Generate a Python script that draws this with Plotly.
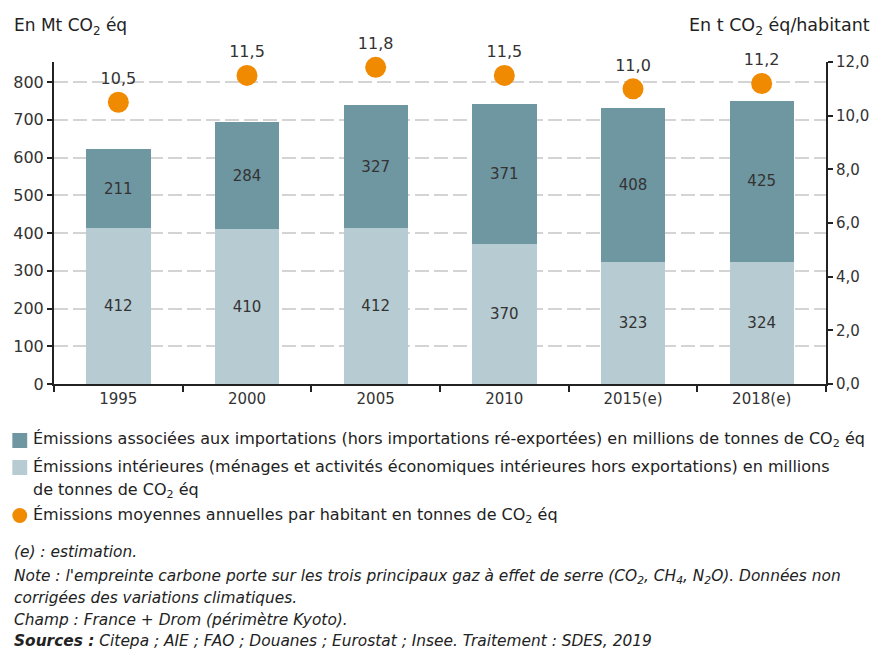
import plotly.graph_objects as go

years = ["1995", "2000", "2005", "2010", "2015(e)", "2018(e)"]
interieures = [412, 410, 412, 370, 323, 324]
importations = [211, 284, 327, 371, 408, 425]
par_habitant = [10.5, 11.5, 11.8, 11.5, 11.0, 11.2]
left_ticks = [0, 100, 200, 300, 400, 500, 600, 700, 800]
right_ticks = [0, 2, 4, 6, 8, 10, 12]

DARK = "#6f97a1"
LIGHT = "#b7cbd2"
ORANGE = "#f08a00"
TXT = "#333333"
FONT = "DejaVu Sans, Liberation Sans, Arial, sans-serif"

W, H = 881, 649
L, R, T, B = 54, 49, 62, 265
PW, PH = W - L - R, H - T - B

fig = go.Figure()
fig.add_trace(go.Bar(
    x=years, y=interieures, marker=dict(color=LIGHT, line=dict(width=0)),
    text=[str(v) for v in interieures], textposition="inside",
    insidetextanchor="middle", textfont=dict(size=15, color=TXT),
    name="interieures", yaxis="y"))
fig.add_trace(go.Bar(
    x=years, y=importations, marker=dict(color=DARK, line=dict(width=0)),
    text=[str(v) for v in importations], textposition="inside",
    insidetextanchor="middle", textfont=dict(size=15, color=TXT),
    name="importations", yaxis="y"))
fig.add_trace(go.Scatter(
    x=years, y=par_habitant, mode="markers+text", yaxis="y2",
    marker=dict(color=ORANGE, size=21), cliponaxis=False,
    text=[f"{v:.1f}".replace(".", ",") for v in par_habitant],
    textposition="top center", textfont=dict(size=16, color=TXT),
    name="habitant"))

fig.update_layout(
    width=W, height=H,
    margin=dict(l=L, r=R, t=T, b=B),
    paper_bgcolor="white", plot_bgcolor="white",
    barmode="stack", bargap=0.5, showlegend=False,
    font=dict(family=FONT, size=14, color=TXT),
    xaxis=dict(type="category", showline=True, linecolor="#222", linewidth=2,
               ticks="outside", tickson="boundaries", ticklen=6, tickwidth=2,
               tickcolor="#222", tickfont=dict(size=15, color=TXT),
               showgrid=False),
    yaxis=dict(range=[0, 853], tickvals=left_ticks,
               showline=True, linecolor="#222", linewidth=2,
               ticks="outside", ticklen=5, tickwidth=2, tickcolor="#222",
               tickfont=dict(size=16, color=TXT),
               showgrid=True, gridcolor="#d4d4d4", griddash="14px,5px", gridwidth=1.5,
               zeroline=False),
    yaxis2=dict(range=[0, 12], tickvals=right_ticks,
                ticktext=[f"{v:.1f}".replace(".", ",") for v in right_ticks],
                overlaying="y", side="right",
                showline=True, linecolor="#222", linewidth=2,
                ticks="outside", ticklen=5, tickwidth=2, tickcolor="#222",
                tickfont=dict(size=15, color=TXT), showgrid=False, zeroline=False),
)


def px(x):
    return (x - L) / PW


def py(y):
    return (H - B - y) / PH


ann = []
ann.append(dict(x=px(12), y=py(27), xref="paper", yref="paper",
                text="En Mt CO<sub>2</sub> éq", showarrow=False,
                xanchor="left", yanchor="middle", font=dict(size=17, color="#222")))
ann.append(dict(x=px(878), y=py(27), xref="paper", yref="paper",
                text="En t CO<sub>2</sub> éq/habitant", showarrow=False,
                xanchor="right", yanchor="middle", font=dict(size=17.5, color="#222")))

shapes = []
shapes.append(dict(type="rect", xref="paper", yref="paper",
                   x0=px(12), x1=px(27), y0=py(448), y1=py(433),
                   fillcolor=DARK, line=dict(width=0)))
shapes.append(dict(type="rect", xref="paper", yref="paper",
                   x0=px(12), x1=px(27), y0=py(475), y1=py(460),
                   fillcolor=LIGHT, line=dict(width=0)))
shapes.append(dict(type="circle", xref="paper", yref="paper",
                   x0=px(12), x1=px(27), y0=py(523), y1=py(508),
                   fillcolor=ORANGE, line=dict(width=0)))

legend_lines = [
    (440, "Émissions associées aux importations (hors importations ré-exportées) en millions de tonnes de CO<sub>2</sub> éq"),
    (467, "Émissions intérieures (ménages et activités économiques intérieures hors exportations) en millions"),
    (490, "de tonnes de CO<sub>2</sub> éq"),
    (515, "Émissions moyennes annuelles par habitant en tonnes de CO<sub>2</sub> éq"),
]
for y, t in legend_lines:
    ann.append(dict(x=px(31), y=py(y), xref="paper", yref="paper", text=t,
                    showarrow=False, xanchor="left", yanchor="middle",
                    font=dict(size=16, color="#222")))

notes = [
    (552, "<i>(e) : estimation.</i>"),
    (577, "<i>Note : l'empreinte carbone porte sur les trois principaux gaz à effet de serre (CO<sub>2</sub>, CH<sub>4</sub>, N<sub>2</sub>O). Données non</i>"),
    (598, "<i>corrigées des variations climatiques.</i>"),
    (620, "<i>Champ : France + Drom (périmètre Kyoto).</i>"),
    (641, "<b><i>Sources :</i></b><i> Citepa ; AIE ; FAO ; Douanes ; Eurostat ; Insee. Traitement : SDES, 2019</i>"),
]
for y, t in notes:
    ann.append(dict(x=px(12), y=py(y), xref="paper", yref="paper", text=t,
                    showarrow=False, xanchor="left", yanchor="middle",
                    font=dict(size=15.4, color="#222")))

fig.update_layout(annotations=ann, shapes=shapes)
fig.write_html("out.html", config={"displayModeBar": False},
               post_script="document.body.style.margin='0';document.body.style.padding='0';")
